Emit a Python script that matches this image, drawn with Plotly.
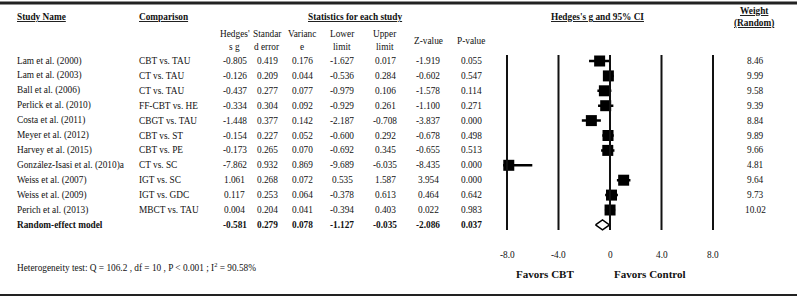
import plotly.graph_objects as go

W, H = 800, 298

studies = ["Lam et al. (2000)", "Lam et al. (2003)", "Ball et al. (2006)", "Perlick et al. (2010)",
           "Costa et al. (2011)", "Meyer et al. (2012)", "Harvey et al. (2015)",
           "González-Isasi et al. (2010)a", "Weiss et al. (2007)", "Weiss et al. (2009)",
           "Perich et al. (2013)"]
comparisons = ["CBT vs. TAU", "CT vs. TAU", "CT vs. TAU", "FF-CBT vs. HE", "CBGT vs. TAU",
               "CBT vs. ST", "CBT vs. PE", "CT vs. SC", "IGT vs. SC", "IGT vs. GDC", "MBCT vs. TAU"]
hedges_g = [-0.805, -0.126, -0.437, -0.334, -1.448, -0.154, -0.173, -7.862, 1.061, 0.117, 0.004]
std_err = [0.419, 0.209, 0.277, 0.304, 0.377, 0.227, 0.265, 0.932, 0.268, 0.253, 0.204]
variance = [0.176, 0.044, 0.077, 0.092, 0.142, 0.052, 0.070, 0.869, 0.072, 0.064, 0.041]
lower = [-1.627, -0.536, -0.979, -0.929, -2.187, -0.600, -0.692, -9.689, 0.535, -0.378, -0.394]
upper = [0.017, 0.284, 0.106, 0.261, -0.708, 0.292, 0.345, -6.035, 1.587, 0.613, 0.403]
z_value = [-1.919, -0.602, -1.578, -1.100, -3.837, -0.678, -0.655, -8.435, 3.954, 0.464, 0.022]
p_value = [0.055, 0.547, 0.114, 0.271, 0.000, 0.498, 0.513, 0.000, 0.000, 0.642, 0.983]
weights = ["8.46", "9.99", "9.58", "9.39", "8.84", "9.89", "9.66", "4.81", "9.64", "9.73", "10.02"]

summary_label = "Random-effect model"
summary = {"g": -0.581, "se": 0.279, "var": 0.078, "lower": -1.127, "upper": -0.035,
           "z": -2.086, "p": 0.037}

axis_ticks = [-8, -4, 0, 4, 8]
axis_tick_labels = ["-8.0", "-4.0", "0", "4.0", "8.0"]
heterogeneity = "Heterogeneity test: Q = 106.2 , df = 10 , P < 0.001 ; I<sup>2</sup> = 90.58%"

FONT = "Liberation Serif, Times New Roman, DejaVu Serif, serif"
FS = 9.3
BLACK = "#111111"

n = len(studies)
sum_row = n

def px(x):
    return x / W

def py(y):
    return 1 - y / H

fig = go.Figure()

# forest-plot axis geometry
x_lo, x_hi = -8.3, 8.3
unit = (713 - 507) / 16.0
dom0 = (610 + x_lo * unit) / W
dom1 = (610 + x_hi * unit) / W

# y: row index; row 0 at pixel 61, spacing 14.9
row0_px, row_step = 61.0, 14.9
y_top = -row0_px / row_step
y_bot = (H - row0_px) / row_step

# vertical reference lines
for t in axis_ticks:
    fig.add_shape(type="line", xref="x", yref="y", x0=t, x1=t,
                  y0=(55 - row0_px) / row_step, y1=(230 - row0_px) / row_step,
                  line=dict(color=BLACK, width=2))

# CI lines
cx, cy = [], []
for i in range(n):
    cx += [lower[i], upper[i], None]
    cy += [i, i, None]
fig.add_trace(go.Scatter(x=cx, y=cy, mode="lines", line=dict(color="black", width=2.5),
                         hoverinfo="skip", showlegend=False))
# squares
fig.add_trace(go.Scatter(x=hedges_g, y=list(range(n)), mode="markers",
                         marker=dict(symbol="square", size=11, color="black"),
                         cliponaxis=False, showlegend=False))
# diamond
dh = 5.0 / row_step
fig.add_trace(go.Scatter(
    x=[summary["lower"], summary["g"], summary["upper"], summary["g"], summary["lower"]],
    y=[sum_row, sum_row - dh, sum_row, sum_row + dh, sum_row],
    mode="lines", line=dict(color="black", width=1.5), fill="toself",
    fillcolor="white", showlegend=False, hoverinfo="skip"))

ann = []

def add_text(text, x, y, yref="paper", xanchor="center", size=FS, bold=False):
    if bold:
        text = "<b>" + text + "</b>"
    ann.append(dict(text=text, x=x, y=y, xref="paper", yref=yref, xanchor=xanchor,
                    yanchor="middle", showarrow=False,
                    font=dict(family=FONT, size=size, color=BLACK)))

# headers
add_text("<u>Study Name</u>", px(15), py(17), xanchor="left", bold=True)
add_text("<u>Comparison</u>", px(137), py(17), xanchor="left", bold=True)
add_text("<u>Statistics for each study</u>", px(355), py(17), bold=True)
add_text("<u>Hedges's g and 95% CI</u>", px(597), py(17), bold=True)
add_text("<u>Weight</u>", px(754), py(11), bold=True)
add_text("<u>(Random)</u>", px(754), py(23), bold=True)

col_x = [234.5, 267, 302, 342, 385, 428, 471]
sub1 = ["Hedges'", "Standar", "Varianc", "Lower", "Upper", None, None]
sub2 = ["s g", "d error", "e", "limit", "limit", None, None]
single = [None, None, None, None, None, "Z-value", "P-value"]
for k, cxp in enumerate(col_x):
    if single[k]:
        add_text(single[k], px(cxp), py(41))
    else:
        add_text(sub1[k], px(cxp), py(34))
        add_text(sub2[k], px(cxp), py(47))

cols = [hedges_g, std_err, variance, lower, upper, z_value, p_value]
for i in range(n):
    add_text(studies[i], px(15), i, yref="y", xanchor="left")
    add_text(comparisons[i], px(137), i, yref="y", xanchor="left")
    for k, cxp in enumerate(col_x):
        add_text(f"{cols[k][i]:.3f}", px(cxp), i, yref="y")
    add_text(weights[i], px(755), i, yref="y")

add_text(summary_label, px(15), sum_row, yref="y", xanchor="left", bold=True)
svals = [summary["g"], summary["se"], summary["var"], summary["lower"], summary["upper"],
         summary["z"], summary["p"]]
for k, cxp in enumerate(col_x):
    add_text(f"{svals[k]:.3f}", px(cxp), sum_row, yref="y", bold=True)

# axis tick labels
for t, lab in zip(axis_ticks, axis_tick_labels):
    add_text(lab, px(610 + t * unit), py(255))

add_text("Favors CBT", px(545), py(274), size=11, bold=True)
add_text("Favors Control", px(650), py(274), size=11, bold=True)
add_text(heterogeneity, px(15), py(267), xanchor="left")

fig.update_layout(
    width=W, height=H, margin=dict(l=0, r=0, t=0, b=0),
    paper_bgcolor="white", plot_bgcolor="rgba(0,0,0,0)",
    xaxis=dict(domain=[dom0, dom1], range=[x_lo, x_hi], visible=False, fixedrange=True),
    yaxis=dict(domain=[0, 1], range=[y_bot, y_top], visible=False, fixedrange=True),
    annotations=ann,
    shapes=list(fig.layout.shapes) + [
        dict(type="line", xref="paper", yref="paper", x0=0, x1=px(797), y0=py(3), y1=py(3),
             line=dict(color="#222222", width=3)),
        dict(type="line", xref="paper", yref="paper", x0=0, x1=px(797), y0=py(295), y1=py(295),
             line=dict(color="#222222", width=2)),
    ],
    showlegend=False,
    hovermode=False,
)

fig.write_html("out.html", config={"displayModeBar": False, "staticPlot": True},
               post_script="document.body.style.margin='0';")
